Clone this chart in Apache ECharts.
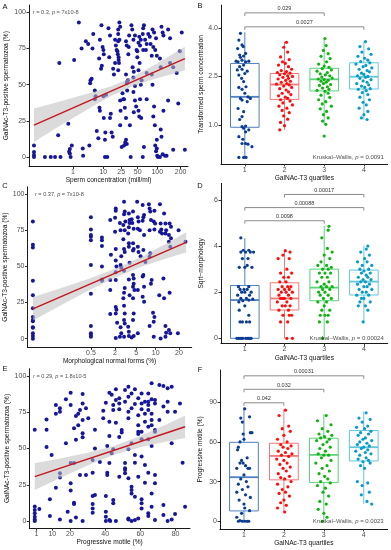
<!DOCTYPE html>
<html><head><meta charset="utf-8">
<script src="https://cdn.jsdelivr.net/npm/echarts@6.0.0/dist/echarts.min.js"></script>
<style>html,body{margin:0;padding:0;background:#fff}#c{width:391px;height:550px}</style>
</head><body><div id="c"></div>
<script>
// ---------------- DATA ----------------
const concTicks = [1, 10, 25, 50, 100, 200];      // sperm concentration (mill/ml), axis drawn on 4th root
const morphTicks = [0.5, 2, 5, 10, 20];           // normal forms (%), axis drawn on 4th root
const motTicks = [1, 10, 20, 40, 60, 80];         // progressive motile (%)
const pctTicks = [0, 25, 50, 75, 100];
const quartiles = [1, 2, 3, 4];
const bTicks = [1.0, 2.5, 4.0];
const dTicks = [0, 2, 4, 6];
const fTicks = [0, 30, 60, 90];

// Panel A: [fourth-root of concentration, % GalNAc-T3 positive]
const ptsA = [[0,8],[0,3.5],[0,1.5],[0,0],[0.28,0],[0.43,0],[0.54,0],[0.68,0],[0.65,65],[0.62,15],[0.88,23],
[0.92,5.5],[0.92,2.5],[0.94,0],[0.97,8],[0.9,3.6],[1.03,67],[1.15,93],[1.22,75],[1.25,6],[1.26,1],
[1.33,80],[1.39,78],[1.42,8],[1.44,51],[1.45,53],[1.48,54],[1.50,75],[1.52,85],[1.56,40],[1.56,46],[1.58,42],
[1.61,18],[1.65,13],[1.67,68],[1.69,81],[1.72,61],[1.74,63],[1.73,91],[1.69,32],[1.68,34],[1.76,76],[1.78,74],
[1.79,71],[1.79,27],[1.82,12],[1.83,17],[1.85,43],[1.78,42],[1.82,0],[1.88,0],[1.91,89],[1.95,84],[1.93,69],
[1.97,30],[1.95,27],[1.99,17],[2.02,14],[2.08,65],[2.03,61],[2.05,57],[2.12,74],[2.10,77],[2.08,81],[2.16,88],
[2.19,93],[2.21,90],[2.16,85],[2.19,81],[2.16,80],[2.14,73],[2.15,71],[2.17,69],[2.17,67],[2.18,65],[2.16,60],
[2.21,22],[2.22,32],[2.21,39],[2.25,7],[2.27,44],[2.29,40],[2.31,40],[2.33,34],[2.36,27],[2.36,12],[2.31,8],
[2.34,10],[2.38,9],[2.36,57],[2.38,51],[2.39,46],[2.41,53],[2.39,52],[2.38,77],[2.36,80],[2.44,84],[2.43,76],
[2.42,71],[2.48,0],[2.46,22],[2.50,91],[2.52,88],[2.55,81],[2.59,84],[2.53,62],[2.56,59],[2.55,55],[2.59,49],
[2.55,45],[2.59,39],[2.62,35],[2.56,31],[2.63,74],[2.65,73],[2.68,79],[2.72,77],[2.70,83],[2.74,81],[2.65,69],
[2.68,60],[2.71,65],[2.72,40],[2.68,32],[2.70,28],[2.75,27],[2.76,53],[2.74,50],[2.79,85],[2.80,89],[2.82,91],
[2.80,74],[2.85,81],[2.87,74],[2.89,78],[2.89,58],[2.82,7],[2.79,0],[2.89,40],[2.93,85],[2.97,83],[2.99,78],
[3.02,70],[3.04,88],[3.08,86],[3.13,82],[3.06,76],[3.11,74],[3.15,70],[3.02,57],[3.04,50],[3.08,35],[3.06,28],
[3.10,22],[3.15,12],[3.11,8],[3.15,6],[3.13,4],[3.16,1],[3.18,0],[3.23,0],[3.23,68],[3.25,62],[3.27,90],
[3.30,86],[3.32,84],[3.25,19],[3.27,14],[3.32,32],[3.30,2],[3.36,1],[3.40,1],[3.44,88],[3.49,82],[3.44,39],
[3.49,65],[3.57,62],[3.66,58],[3.79,86],[3.74,73],[3.70,37],[3.87,5],[3.57,5]];
const fitA = [[0, 22], [3.87, 68.05]];
const ciA_x = [0, 0.5, 1, 1.5, 2, 2.5, 3, 3.5, 3.87];
const ciA_lo = [10.5, 18.8, 26.9, 35.0, 42.5, 48.6, 53.2, 57.1, 59.9];
const ciA_hi = [33.5, 37.2, 40.9, 44.7, 49.1, 54.9, 62.2, 70.2, 76.2];

// Panel C: [fourth-root of normal forms %, % positive]
const ptsC = [[0,81],[0,65],[0,63],[0,40],[0,30],[0,21],[0,15],[0,13],[0,12],[0,8],[0,7.5],[0,3.7],[0,1.8],[0,0],
[0.84,84],[0.84,75.5],[0.84,71.7],[0.84,70.5],[0.84,68],[0.84,51],[0.84,31],[0.84,8.8],[0.84,3.7],[0.84,2.5],[0.84,1.4],
[1.0,70],[1.0,68],[1.0,64],[1.0,50],[1.0,41],[1.0,40],[1.12,82],[1.13,58],[1.12,40.5],[1.12,33.6],[1.12,17],
[1.20,90],[1.20,88.5],[1.19,83.6],[1.19,74],[1.20,62],[1.20,54],[1.21,50],[1.20,46],[1.20,40.5],[1.20,22],[1.21,20],
[1.20,17.5],[1.22,11],[1.20,0.5],[1.26,80],[1.27,75],[1.28,57],[1.27,51],[1.28,49],[1.27,8],[1.28,3.7],[1.26,1.4],
[1.32,94.7],[1.33,88],[1.32,86],[1.34,81],[1.31,78.6],[1.33,75],[1.31,68.7],[1.32,62],[1.33,60],[1.32,47],[1.33,35],
[1.32,31.8],[1.31,28],[1.32,22.8],[1.33,17.5],[1.32,13],[1.33,10.6],[1.32,1.4],[1.39,86.6],[1.40,82],[1.40,80],
[1.39,77],[1.38,72.8],[1.39,66],[1.39,63.6],[1.40,52.5],[1.39,41],[1.40,30],[1.38,8.3],[1.39,4.8],[1.39,1.8],
[1.45,88],[1.43,82.5],[1.44,80],[1.46,76],[1.45,66],[1.46,62],[1.45,61],[1.45,44],[1.46,41.7],[1.46,38],[1.45,36],
[1.47,33.6],[1.45,28],[1.46,17.5],[1.45,12.9],[1.46,1.8],[1.43,0.9],[1.51,94.7],[1.52,84],[1.53,81],[1.52,76],
[1.55,75],[1.52,63.6],[1.53,60],[1.56,57],[1.52,33.6],[1.52,3.7],[1.59,92.4],[1.61,85.5],[1.60,84],[1.59,81.6],
[1.61,71.7],[1.60,61.3],[1.63,53],[1.60,44],[1.59,43],[1.61,36],[1.59,29],[1.61,25.6],[1.68,93],[1.69,90],[1.70,88],
[1.71,82],[1.69,75],[1.70,59],[1.69,56.7],[1.72,40.5],[1.71,38],[1.69,8.8],[1.76,88.5],[1.75,81],[1.77,79.7],
[1.76,75.5],[1.74,18],[1.76,15],[1.75,11.7],[1.75,1.4],[1.84,93],[1.85,79.7],[1.86,75.5],[1.84,74],[1.87,72.8],
[1.83,30],[1.85,0.2],[1.90,86.6],[1.92,79.7],[1.93,75],[1.92,72.8],[1.89,41.7],[1.90,28],[1.92,8.8],[1.93,4.1],
[1.92,1.4],[1.98,79.7],[2.00,77.4],[1.97,71.7],[2.00,69.4],[1.97,67],[1.99,63.6],[1.98,31.8],[1.97,6],[1.99,3.7],
[2.11,75],[2.10,3.7],[2.21,67]];
const fitC = [[0, 20.6], [2.22, 66.6]];
const ciC_x = [0, 0.4, 0.8, 1.2, 1.6, 2.0, 2.22];
const ciC_lo = [12.6, 23.0, 33.1, 42.4, 50.3, 56.5, 59.6];
const ciC_hi = [28.6, 34.8, 41.3, 48.5, 57.2, 67.5, 73.6];

// Panel E: [progressive motile %, % positive]
const ptsE = [[0,63],[0,10],[0,7.6],[0,5.3],[0,3],[0,1.1],[0,0],[2.6,8.3],[6.7,70],[6.7,63],[6.7,51],[8.6,15],[8.6,3.4],
[9.6,45.5],[12,80],[12,74],[12,23],[14.3,77.7],[14.3,75.4],[14.3,30],[14.3,33],[14.3,1.1],[17.7,84],[17.7,53.6],
[18.7,6.4],[20.4,88.5],[20.4,80],[20.4,40],[20.4,26],[20.4,21],[20.4,0],[22.3,64],[22.3,40],[22.3,12.6],[22.3,11.7],
[23.4,72.4],[23.4,56],[23.4,2.5],[24.7,74],[24.7,66],[25.7,76.6],[25.7,31.7],[27.2,81],[27.2,87.6],[27.2,69.7],
[27.2,60.5],[27.2,57.7],[27.2,0],[29.1,77.7],[29.1,31.7],[30.4,70.8],[32.9,42],[32.9,33.3],[32.9,17.2],[32.9,11.7],
[32.9,8.7],[32.9,5.7],[34.2,50],[34.2,63],[34.2,18],[37,40.7],[38.9,76],[38.9,70.8],[40.4,81.6],[40.4,17.2],
[40.4,6.4],[40.4,3],[40.4,0],[41.2,51.7],[41.2,33.3],[41.2,31.7],[42.4,88.5],[42.4,68.5],[42.4,58.6],[42.4,40],
[42.4,0.7],[42.9,0],[43.7,87],[43.7,46.7],[44.6,80],[44.6,76.6],[44.6,14.5],[44.6,12.2],[44.6,49.4],[46.1,90.8],
[46.1,83.4],[46.1,67.8],[46.1,0],[48,84.6],[48,81],[48,77],[48,58],[48,30.6],[49.4,62.8],[49.4,61],[51.3,90.3],
[51.3,82.3],[51.3,40],[51.3,36.3],[51.3,35.2],[51.3,32.9],[53.2,92.6],[53.2,85.7],[53.2,75.4],[53.2,70.8],[53.2,49.4],
[53.2,29.4],[53.2,1.8],[53.2,1.1],[55,88],[55,77.7],[55,53.6],[55,23.7],[55,21.4],[55,19],[55,0],[56.9,90.8],
[56.9,80.7],[56.9,45.5],[56.9,40.2],[56.9,16.8],[56.9,0.7],[58.8,84.6],[58.8,73],[58.8,66],[58.8,61.6],[58.8,60],
[58.8,30.6],[58.8,1.8],[60.7,88],[60.7,81],[60.7,77],[60.7,61.6],[60.7,56.3],[60.7,44.4],[60.7,15],[60.7,12.2],
[60.7,8.7],[62.6,82.3],[62.6,74],[62.6,68.5],[62.6,38.6],[62.6,26.4],[64.5,88],[64.5,82.3],[64.5,80],[64.5,76.6],
[64.5,65],[64.5,56.3],[64.5,33.3],[64.5,5.3],[64.5,3.4],[66.4,95],[66.4,84],[66.4,74],[66.4,69.7],[66.4,66],
[66.4,51.7],[66.4,19],[66.4,9.9],[68.3,83.4],[68.3,81],[68.3,62.8],[68.3,61.6],[68.3,31.7],[68.3,26],[68.3,0.7],
[70.8,93.8],[70.8,69.7],[73.1,93.1],[73.1,78.9],[73.1,4.1],[73.1,11],[75.5,91.5],[75.5,82.3],[75.5,75.4],[75.5,0],
[77.8,92.6],[77.8,53.6],[77.8,1.1],[79.7,4.8],[79.7,75.4],[82.5,81],[84,40.2],[85.4,9.9]];
const fitE = [[0, 30.6], [85.4, 65.0]];
const ciE_x = [0, 15, 30, 45, 60, 75, 85.4];
const ciE_lo = [21.4, 30.0, 38.3, 45.7, 50.9, 54.8, 57.3];
const ciE_hi = [39.8, 43.3, 47.1, 51.7, 58.6, 66.8, 72.7];

// Box stats: [quartile, lowerWhisker, Q1, median, Q3, upperWhisker]
const boxB = [[1,0,0.93,1.87,2.90,3.86],[2,0.85,1.79,2.25,2.59,3.57],[3,1.02,2.05,2.41,2.75,3.67],[4,1.17,2.11,2.49,2.92,3.57]];
const boxD = [[1,0,0,1.66,2.29,4.34],[2,0,1.23,1.73,2.41,3.80],[3,0,1.63,2.20,3.0,4.88],[4,0.68,1.88,2.46,2.96,4.02]];
const boxF = [[1,0,7.8,33.3,59.7,86.2],[2,7.3,31.3,49.4,59,84.7],[3,0,29.2,50.2,62.8,80.9],[4,13.1,45.6,56,68.6,83]];

// Jittered points: [horizontal jitter, value] per quartile
const B1 = [[-0.11,3.83],[-0.15,3.62],[-0.07,3.47],[-0.04,3.42],[-0.18,3.36],[0.02,3.21],[-0.13,3.16],[-0.03,3.13],[-0.11,3.09],[-0.07,3.0],[-0.17,2.95],[-0.22,2.97],[0.02,2.95],[0.10,2.97],[-0.03,2.85],[-0.13,2.8],[-0.07,2.72],[-0.19,2.7],[0.06,2.66],[0,2.59],[-0.15,2.54],[-0.08,2.44],[-0.03,2.34],[0.03,2.18],[-0.15,2.16],[-0.07,2.1],[0,1.98],[0.08,1.87],[0.14,1.82],[-0.11,1.82],[-0.07,1.77],[0.06,1.72],[-0.17,1.51],[-0.03,1.41],[-0.07,1.26],[-0.13,1.17],[0.02,0.97],[-0.07,0.95],[-0.03,0.9],[0.10,0.85],[0.02,0.79],[-0.15,0.64],[-0.05,0.56],[0.02,0.43],[-0.07,0.43],[0.08,0.41],[0.18,0.33],[-0.15,0],[-0.03,0],[0.03,0]];
const B2 = [[0.05,3.55],[-0.02,3.4],[0.08,3.25],[-0.1,3.1],[0.12,3.02],[-0.05,2.95],[0.02,2.9],[-0.15,2.85],[0.1,2.8],[0.18,2.72],[-0.08,2.68],[0.05,2.65],[-0.18,2.62],[0.14,2.6],[0,2.58],[-0.12,2.55],[0.08,2.52],[0.2,2.5],[-0.04,2.47],[0.1,2.44],[-0.16,2.42],[0.03,2.38],[0.15,2.35],[-0.08,2.32],[0.06,2.28],[-0.2,2.26],[0.12,2.24],[-0.02,2.2],[0.18,2.16],[-0.12,2.12],[0.04,2.08],[0.1,2.02],[-0.06,1.98],[0.16,1.94],[-0.15,1.9],[0.02,1.86],[0.08,1.82],[-0.1,1.78],[0.14,1.74],[-0.04,1.68],[0.2,1.62],[-0.14,1.58],[0.06,1.52],[-0.06,1.45],[0.12,1.38],[-0.02,1.28],[0.08,1.18],[-0.1,1.08],[0,0.98],[-0.12,0.85]];
const B3 = [[0.02,3.67],[0.05,3.45],[-0.02,3.3],[0.1,3.2],[-0.08,3.12],[0.15,3.05],[0.06,2.95],[-0.14,2.88],[0,2.82],[0.12,2.78],[-0.05,2.74],[0.18,2.7],[-0.18,2.66],[0.08,2.62],[-0.1,2.58],[0.03,2.55],[0.14,2.52],[-0.06,2.48],[0.2,2.45],[-0.15,2.42],[0,2.4],[0.1,2.38],[-0.08,2.35],[0.05,2.32],[-0.02,2.28],[0.16,2.25],[-0.12,2.22],[0.08,2.18],[-0.04,2.14],[0.12,2.1],[-0.18,2.07],[0.02,2.04],[0.1,1.98],[-0.08,1.92],[0.14,1.85],[-0.14,1.78],[0.04,1.72],[-0.05,1.65],[0.18,1.58],[-0.1,1.5],[0.06,1.42],[-0.02,1.32],[0.1,1.22],[-0.04,1.12],[0.04,1.02],[0,0.66]];
const B4 = [[0.04,3.57],[-0.1,3.42],[0.12,3.35],[-0.05,3.25],[0.18,3.18],[-0.15,3.12],[0.02,3.06],[0.1,3.0],[-0.08,2.96],[0.15,2.92],[-0.2,2.88],[0.05,2.84],[-0.02,2.8],[0.2,2.76],[-0.12,2.72],[0.08,2.68],[0.14,2.64],[-0.06,2.6],[0,2.56],[-0.16,2.52],[0.1,2.5],[0.04,2.47],[-0.1,2.44],[0.18,2.4],[-0.02,2.36],[0.08,2.32],[-0.18,2.28],[0.12,2.24],[-0.06,2.2],[0.02,2.16],[0.16,2.12],[-0.14,2.1],[0.06,2.06],[-0.04,2.0],[0.1,1.94],[-0.1,1.86],[0.14,1.78],[-0.02,1.7],[0.06,1.62],[-0.12,1.52],[0.1,1.42],[0,1.32],[-0.06,1.22],[0.08,1.17]];
const D1 = [[-0.2,0],[-0.12,0],[-0.05,0],[0.02,0],[0.1,0],[0.16,0],[-0.16,0],[0.06,0],[-0.08,0],[0.13,0],[-0.06,0.71],[0.04,0.71],[0.12,0.71],[-0.12,0.71],[0.1,1.0],[-0.14,1.22],[0,1.41],[-0.15,1.58],[-0.05,1.63],[0.1,1.66],[0.2,1.7],[-0.1,1.73],[0.04,1.73],[-0.18,1.87],[0.12,1.87],[0,2.0],[-0.08,2.0],[0.16,2.0],[-0.12,2.12],[0.06,2.12],[-0.02,2.12],[0.1,2.24],[-0.16,2.24],[-0.14,3.08],[0,3.08],[0.06,3.16],[0.18,3.08],[-0.06,3.46],[0.08,3.46],[-0.1,3.74],[0.02,3.74],[0.14,3.74],[0.22,3.74],[-0.04,3.82],[0.1,3.82],[-0.1,4.36]];
const D2 = [[0.06,0],[0.2,0],[-0.1,0.71],[0.08,0.71],[0.12,1.0],[-0.04,1.0],[0.18,1.0],[-0.14,1.22],[0.1,1.22],[-0.06,1.41],[0.02,1.41],[0.14,1.41],[-0.18,1.58],[0.06,1.58],[-0.1,1.73],[0,1.73],[0.16,1.73],[-0.04,1.73],[0.1,1.87],[-0.14,1.87],[0.04,2.0],[-0.08,2.0],[0.2,2.0],[0.12,2.12],[-0.16,2.12],[0,2.12],[-0.06,2.24],[0.08,2.24],[0.16,2.24],[-0.12,2.45],[0.04,2.45],[0.1,2.65],[-0.02,2.65],[0.18,2.83],[-0.1,2.83],[0.06,3.0],[-0.16,3.46],[0.12,3.46],[-0.04,3.61],[0.14,3.74],[0.02,3.8]];
const D3 = [[-0.04,0],[-0.12,0.71],[0.08,0.71],[-0.1,1.0],[0.02,1.0],[0.1,1.0],[-0.06,1.22],[0.14,1.22],[0,1.41],[-0.16,1.58],[0.06,1.58],[-0.02,1.73],[0.18,1.73],[-0.1,1.87],[0.1,1.87],[0.02,2.0],[-0.14,2.0],[0.14,2.12],[-0.04,2.12],[0.06,2.24],[-0.08,2.24],[0.2,2.24],[0,2.35],[-0.18,2.45],[0.12,2.45],[-0.06,2.65],[0.08,2.65],[0.16,2.83],[-0.12,2.83],[0.02,2.83],[-0.04,3.0],[0.1,3.0],[0.18,3.08],[-0.16,3.16],[0.06,3.16],[-0.08,3.32],[0.14,3.46],[0,3.61],[0.2,3.74],[0.08,3.9],[-0.06,4.36],[0.1,4.69],[0.12,4.86]];
const D4 = [[-0.02,0.71],[0.1,1.22],[-0.14,1.41],[0.04,1.41],[-0.1,1.58],[0.16,1.58],[0,1.73],[-0.06,1.73],[0.12,1.87],[-0.18,1.87],[0.06,2.0],[-0.04,2.0],[0.2,2.12],[-0.12,2.12],[0.08,2.24],[0,2.24],[-0.16,2.35],[0.14,2.35],[0.04,2.45],[-0.08,2.45],[0.18,2.55],[-0.02,2.55],[0.1,2.65],[-0.14,2.65],[0.06,2.74],[-0.06,2.83],[0.16,2.83],[0,2.92],[-0.1,3.0],[0.12,3.0],[0.2,3.16],[-0.04,3.16],[0.08,3.32],[-0.16,3.32],[0.02,3.46],[0.14,3.61],[-0.08,3.74],[0.06,3.87],[0.1,4.0]];
const F1 = [[0.02,85],[-0.08,78],[0.14,79],[-0.04,75],[0.16,67],[0.2,67],[-0.02,66],[0,62],[-0.1,60],[-0.14,56],[-0.16,54],[0.08,48],[-0.06,46],[-0.02,44],[0.04,42],[-0.1,44],[0.1,40],[0.14,40],[-0.18,40],[0,35],[-0.08,32],[0.06,30],[-0.14,28],[0.1,26],[-0.04,24],[-0.18,22],[0.04,20],[0.16,18],[-0.12,16],[0,13],[0.02,10],[0.14,8],[-0.06,6],[-0.18,3],[-0.14,0],[-0.04,0],[0.02,0],[0.08,0],[0.12,0],[-0.1,0.5]];
const F2 = [[0.04,84],[-0.12,80],[0.12,72],[-0.04,70],[0.16,68],[0,65],[-0.16,62],[0.08,60],[-0.08,58],[0.18,57],[-0.02,56],[0.1,55],[-0.14,53],[0.04,52],[0.2,51],[-0.06,50],[0.12,49],[-0.18,47],[0,46],[0.08,44],[-0.1,43],[0.16,41],[-0.02,40],[0.06,38],[-0.14,36],[0.14,34],[-0.08,33],[0.02,32],[0.18,30],[-0.16,28],[0.1,26],[-0.04,24],[0.04,22],[-0.12,21],[0.14,19],[0,16],[-0.08,14],[0.06,12],[-0.16,10],[0.02,7]];
const F3 = [[0.06,80],[-0.16,76],[0.18,73],[-0.04,70],[0.1,68],[-0.12,66],[0.2,65],[0.02,64],[-0.08,63],[0.14,62],[-0.18,61],[0.08,60],[-0.02,58],[0.16,56],[-0.1,55],[0.04,53],[-0.14,51],[0.12,50],[0,50],[-0.06,48],[0.18,46],[-0.2,44],[0.08,42],[-0.04,40],[0.14,38],[-0.12,36],[0.02,34],[0.1,32],[-0.08,30],[0.16,29],[-0.16,27],[0.04,25],[-0.02,22],[0.12,19],[-0.1,15],[0.06,13],[-0.14,9],[0,6],[0.08,3],[-0.04,0]];
const F4 = [[0.06,82],[-0.12,78],[0.16,77],[-0.04,75],[0.1,72],[-0.18,71],[0.02,70],[0.18,68],[-0.08,67],[0.12,66],[-0.14,65],[0.04,63],[-0.02,62],[0.2,61],[-0.1,60],[0.08,59],[-0.16,58],[0.14,57],[0,56],[-0.06,55],[0.1,54],[-0.2,53],[0.04,52],[0.18,51],[-0.1,50],[0.06,48],[-0.14,47],[0.12,46],[-0.02,45],[0.16,44],[-0.08,42],[0.02,40],[-0.16,30],[0.1,29],[-0.04,27],[0.14,22],[-0.06,20],[0.08,15],[0.2,13]];

// Pairwise comparison brackets: [from, to, height]
const brB = [[1,3,4.46],[1,4,4.03]];      const brB_lab = ['0.029','0.0027'];
const brD = [[2,4,6.24],[1,4,5.67],[1,3,5.10]]; const brD_lab = ['0.00017','0.00088','0.0098'];
const brF = [[1,4,110],[1,3,99.8],[1,2,89.6]];  const brF_lab = ['0.00031','0.032','0.042'];

// ---------------- STYLE / BUILD ----------------
const FONT = '"Liberation Sans", Arial, Helvetica, sans-serif';
const PT_COL = ['#0b3c93','#ff0d0d','#12b212','#0a9cc7'];
const BOX_COL = ['#5080bf','#f47878','#5bd27b','#62c7dc'];
const SC_COL = '#16169a';
const FIT_COL = '#c4161c';

const chart = echarts.init(document.getElementById('c'), null, {renderer: 'canvas'});

const grids = [
  {left: 29, top: 5, width: 159, height: 161.5},        // A
  {left: 221, top: 5.1, width: 166.7, height: 158.8},   // B
  {left: 27.5, top: 186.8, width: 164.2, height: 160.6},// C
  {left: 221, top: 183.4, width: 166.7, height: 160},   // D
  {left: 29.3, top: 368.75, width: 160.7, height: 159.5},// E
  {left: 220, top: 370, width: 167.7, height: 158.9}    // F
];

function axis(o) {
  return {
    type: 'value', gridIndex: o.g, min: o.min, max: o.max,
    splitLine: {show: false},
    axisLine: {show: true, onZero: false, lineStyle: {color: '#1a1a1a', width: 1}},
    axisTick: {show: true, length: 2.5, lineStyle: {color: '#333', width: 1}, customValues: o.ticks},
    axisLabel: {show: true, fontSize: 7, color: '#4d4d4d', fontFamily: FONT, margin: o.rot ? 3 : 2.5,
      customValues: o.ticks, formatter: o.fmt},
    name: o.name, nameLocation: 'middle', nameGap: o.gap, nameRotate: o.rot || 0,
    nameTextStyle: {fontSize: 6.6, color: '#111', fontFamily: FONT}
  };
}
const root4 = v => Math.pow(v, 0.25);
const fmtRoot4 = v => { const r = Math.round(Math.pow(v, 4) * 10) / 10; return String(r); };
const fmt1 = v => v.toFixed(1);
const fmt0 = v => String(Math.round(v));

const xAxes = [
  axis({g:0, min:-0.128, max:3.95, ticks: concTicks.map(root4), fmt: fmtRoot4, name:'Sperm concentration (mill/ml)', gap:8.5}),
  axis({g:1, min:0.4, max:4.6, ticks: quartiles, fmt: fmt0, name:'GalNAc-T3 quartiles', gap:10.5}),
  axis({g:2, min:-0.078, max:2.30, ticks: morphTicks.map(root4), fmt: fmtRoot4, name:'Morphological normal forms (%)', gap:9.5}),
  axis({g:3, min:0.4, max:4.6, ticks: quartiles, fmt: fmt0, name:'GalNAc-T3 quartiles', gap:11.5}),
  axis({g:4, min:-3.1, max:88.2, ticks: motTicks, fmt: fmt0, name:'Progressive motile (%)', gap:10}),
  axis({g:5, min:0.4, max:4.6, ticks: quartiles, fmt: fmt0, name:'GalNAc-T3 quartiles', gap:10})
];
const yAxes = [
  axis({g:0, min:-6.5, max:105, ticks: pctTicks, fmt: fmt0, name:'GalNAc-T3-positive spermatozoa (%)', gap:19, rot:90}),
  axis({g:1, min:-0.2, max:4.70, ticks: bTicks, fmt: fmt1, name:'Transformed sperm concentration', gap:16, rot:90}),
  axis({g:2, min:-6, max:105, ticks: pctTicks, fmt: fmt0, name:'GalNAc-T3-positive spermatozoa (%)', gap:17, rot:90}),
  axis({g:3, min:-0.22, max:6.72, ticks: dTicks, fmt: fmt0, name:'Sqrt\u2212morphology', gap:16, rot:90}),
  axis({g:4, min:-5, max:105, ticks: pctTicks, fmt: fmt0, name:'GalNAc-T3-positive spermatozoa (%)', gap:19, rot:90}),
  axis({g:5, min:-5.8, max:114.4, ticks: fTicks, fmt: fmt0, name:'Progressive motile (%)', gap:16, rot:90})
];

const series = [];

function scatterPanel(i, pts, fit, cx, clo, chi, note) {
  series.push({type: 'scatter', xAxisIndex: i, yAxisIndex: i, data: pts, symbolSize: 4,
    itemStyle: {color: SC_COL, opacity: 1}, z: 2, silent: true});
  series.push({type: 'custom', xAxisIndex: i, yAxisIndex: i, z: 3, silent: true,
    data: cx.map((x, k) => [x, clo[k], chi[k]]),
    renderItem: function (params, api) {
      if (params.dataIndex !== 0) return {type: 'group', children: []};
      const top = cx.map((x, k) => api.coord([x, chi[k]]));
      const bot = cx.map((x, k) => api.coord([x, clo[k]])).reverse();
      return {type: 'polygon', shape: {points: top.concat(bot)},
        style: {fill: 'rgba(190,190,190,0.55)', stroke: null}};
    }});
  series.push({type: 'line', xAxisIndex: i, yAxisIndex: i, data: fit, showSymbol: false, z: 4,
    lineStyle: {color: FIT_COL, width: 1.4}, silent: true});
  series.push({type: 'scatter', xAxisIndex: i, yAxisIndex: i, data: [note.at], symbolSize: 0, z: 5, silent: true,
    label: {show: true, position: 'right', distance: 0, formatter: note.text, fontSize: 5.6, color: '#222',
      fontFamily: FONT, rich: {i: {fontStyle: 'italic', fontSize: 5.6, color: '#222', fontFamily: FONT}}}});
}

function boxPanel(i, stats, groups, brackets, brLabels, kw) {
  series.push({type: 'custom', xAxisIndex: i, yAxisIndex: i, z: 2, silent: true, data: stats,
    renderItem: function (params, api) {
      const g = api.value(0), lo = api.value(1), q1 = api.value(2), md = api.value(3), q3 = api.value(4), hi = api.value(5);
      const c = BOX_COL[params.dataIndex];
      const tl = api.coord([g - 0.36, q3]), br = api.coord([g + 0.36, q1]);
      const ml = api.coord([g - 0.36, md]), mr = api.coord([g + 0.36, md]);
      const pHi = api.coord([g, hi]), pQ3 = api.coord([g, q3]), pQ1 = api.coord([g, q1]), pLo = api.coord([g, lo]);
      return {type: 'group', children: [
        {type: 'line', shape: {x1: pHi[0], y1: pHi[1], x2: pQ3[0], y2: pQ3[1]}, style: {stroke: c, lineWidth: 1}},
        {type: 'line', shape: {x1: pQ1[0], y1: pQ1[1], x2: pLo[0], y2: pLo[1]}, style: {stroke: c, lineWidth: 1}},
        {type: 'rect', shape: {x: tl[0], y: tl[1], width: br[0] - tl[0], height: br[1] - tl[1]},
          style: {fill: '#fff', stroke: c, lineWidth: 1}},
        {type: 'line', shape: {x1: ml[0], y1: ml[1], x2: mr[0], y2: mr[1]}, style: {stroke: c, lineWidth: 1.8}}
      ]};
    }});
  groups.forEach((pts, k) => {
    series.push({type: 'scatter', xAxisIndex: i, yAxisIndex: i, z: 3, silent: true, symbolSize: 3.2,
      data: pts.map(p => [quartiles[k] + p[0], p[1]]), itemStyle: {color: PT_COL[k], opacity: 1}});
  });
  series.push({type: 'custom', xAxisIndex: i, yAxisIndex: i, z: 4, silent: true, data: brackets,
    renderItem: function (params, api) {
      const a = api.coord([api.value(0), api.value(2)]), b = api.coord([api.value(1), api.value(2)]);
      return {type: 'group', children: [
        {type: 'polyline', shape: {points: [[a[0], a[1] + 3], [a[0], a[1]], [b[0], b[1]], [b[0], b[1] + 3]]},
          style: {stroke: '#8c8c8c', lineWidth: 1, fill: null}},
        {type: 'text', x: (a[0] + b[0]) / 2, y: a[1] - 1.2,
          style: {text: brLabels[params.dataIndex], fill: '#333', font: '5.5px ' + FONT,
            textAlign: 'center', textVerticalAlign: 'bottom', align: 'center', verticalAlign: 'bottom'}}
      ]};
    }});
  series.push({type: 'scatter', xAxisIndex: i, yAxisIndex: i, data: [kw.at], symbolSize: 0, z: 5, silent: true,
    label: {show: true, position: 'left', distance: 0, formatter: kw.text, fontSize: 6, color: '#222',
      fontFamily: FONT, rich: {i: {fontStyle: 'italic', fontSize: 6, color: '#222', fontFamily: FONT}}}});
}

scatterPanel(0, ptsA, fitA, ciA_x, ciA_lo, ciA_hi, {at: [-0.03, 100], text: '{i|r} = 0.3, {i|p} = 7x10-8'});
boxPanel(1, boxB, [B1, B2, B3, B4], brB, brB_lab, {at: [4.5, 0], text: 'Kruskal\u2013Wallis, {i|p} = 0.0091'});
scatterPanel(2, ptsC, fitC, ciC_x, ciC_lo, ciC_hi, {at: [0.03, 100], text: '{i|r} = 0.37, {i|p} = 7x10-8'});
boxPanel(3, boxD, [D1, D2, D3, D4], brD, brD_lab, {at: [4.5, 0], text: 'Kruskal\u2013Wallis, {i|p} = 0.00024'});
scatterPanel(4, ptsE, fitE, ciE_x, ciE_lo, ciE_hi, {at: [-1, 100], text: '{i|r} = 0.29, {i|p} = 1.8x10-5'});
boxPanel(5, boxF, [F1, F2, F3, F4], brF, brF_lab, {at: [4.5, 0], text: 'Kruskal\u2013Wallis, {i|p} = 0.0023'});

const letters = [['A',5,7],['B',200,6],['C',5,186],['D',200,186],['E',5,368.5],['F',200,369.5]];

chart.setOption({
  animation: false,
  backgroundColor: '#fff',
  grid: grids,
  xAxis: xAxes,
  yAxis: yAxes,
  series: series,
  graphic: letters.map(l => ({type: 'text', x: l[1], y: l[2],
    style: {text: l[0], fill: '#111', font: '7.5px ' + FONT, textAlign: 'center', textVerticalAlign: 'middle',
      align: 'center', verticalAlign: 'middle'}}))
});
</script>
</body></html>
